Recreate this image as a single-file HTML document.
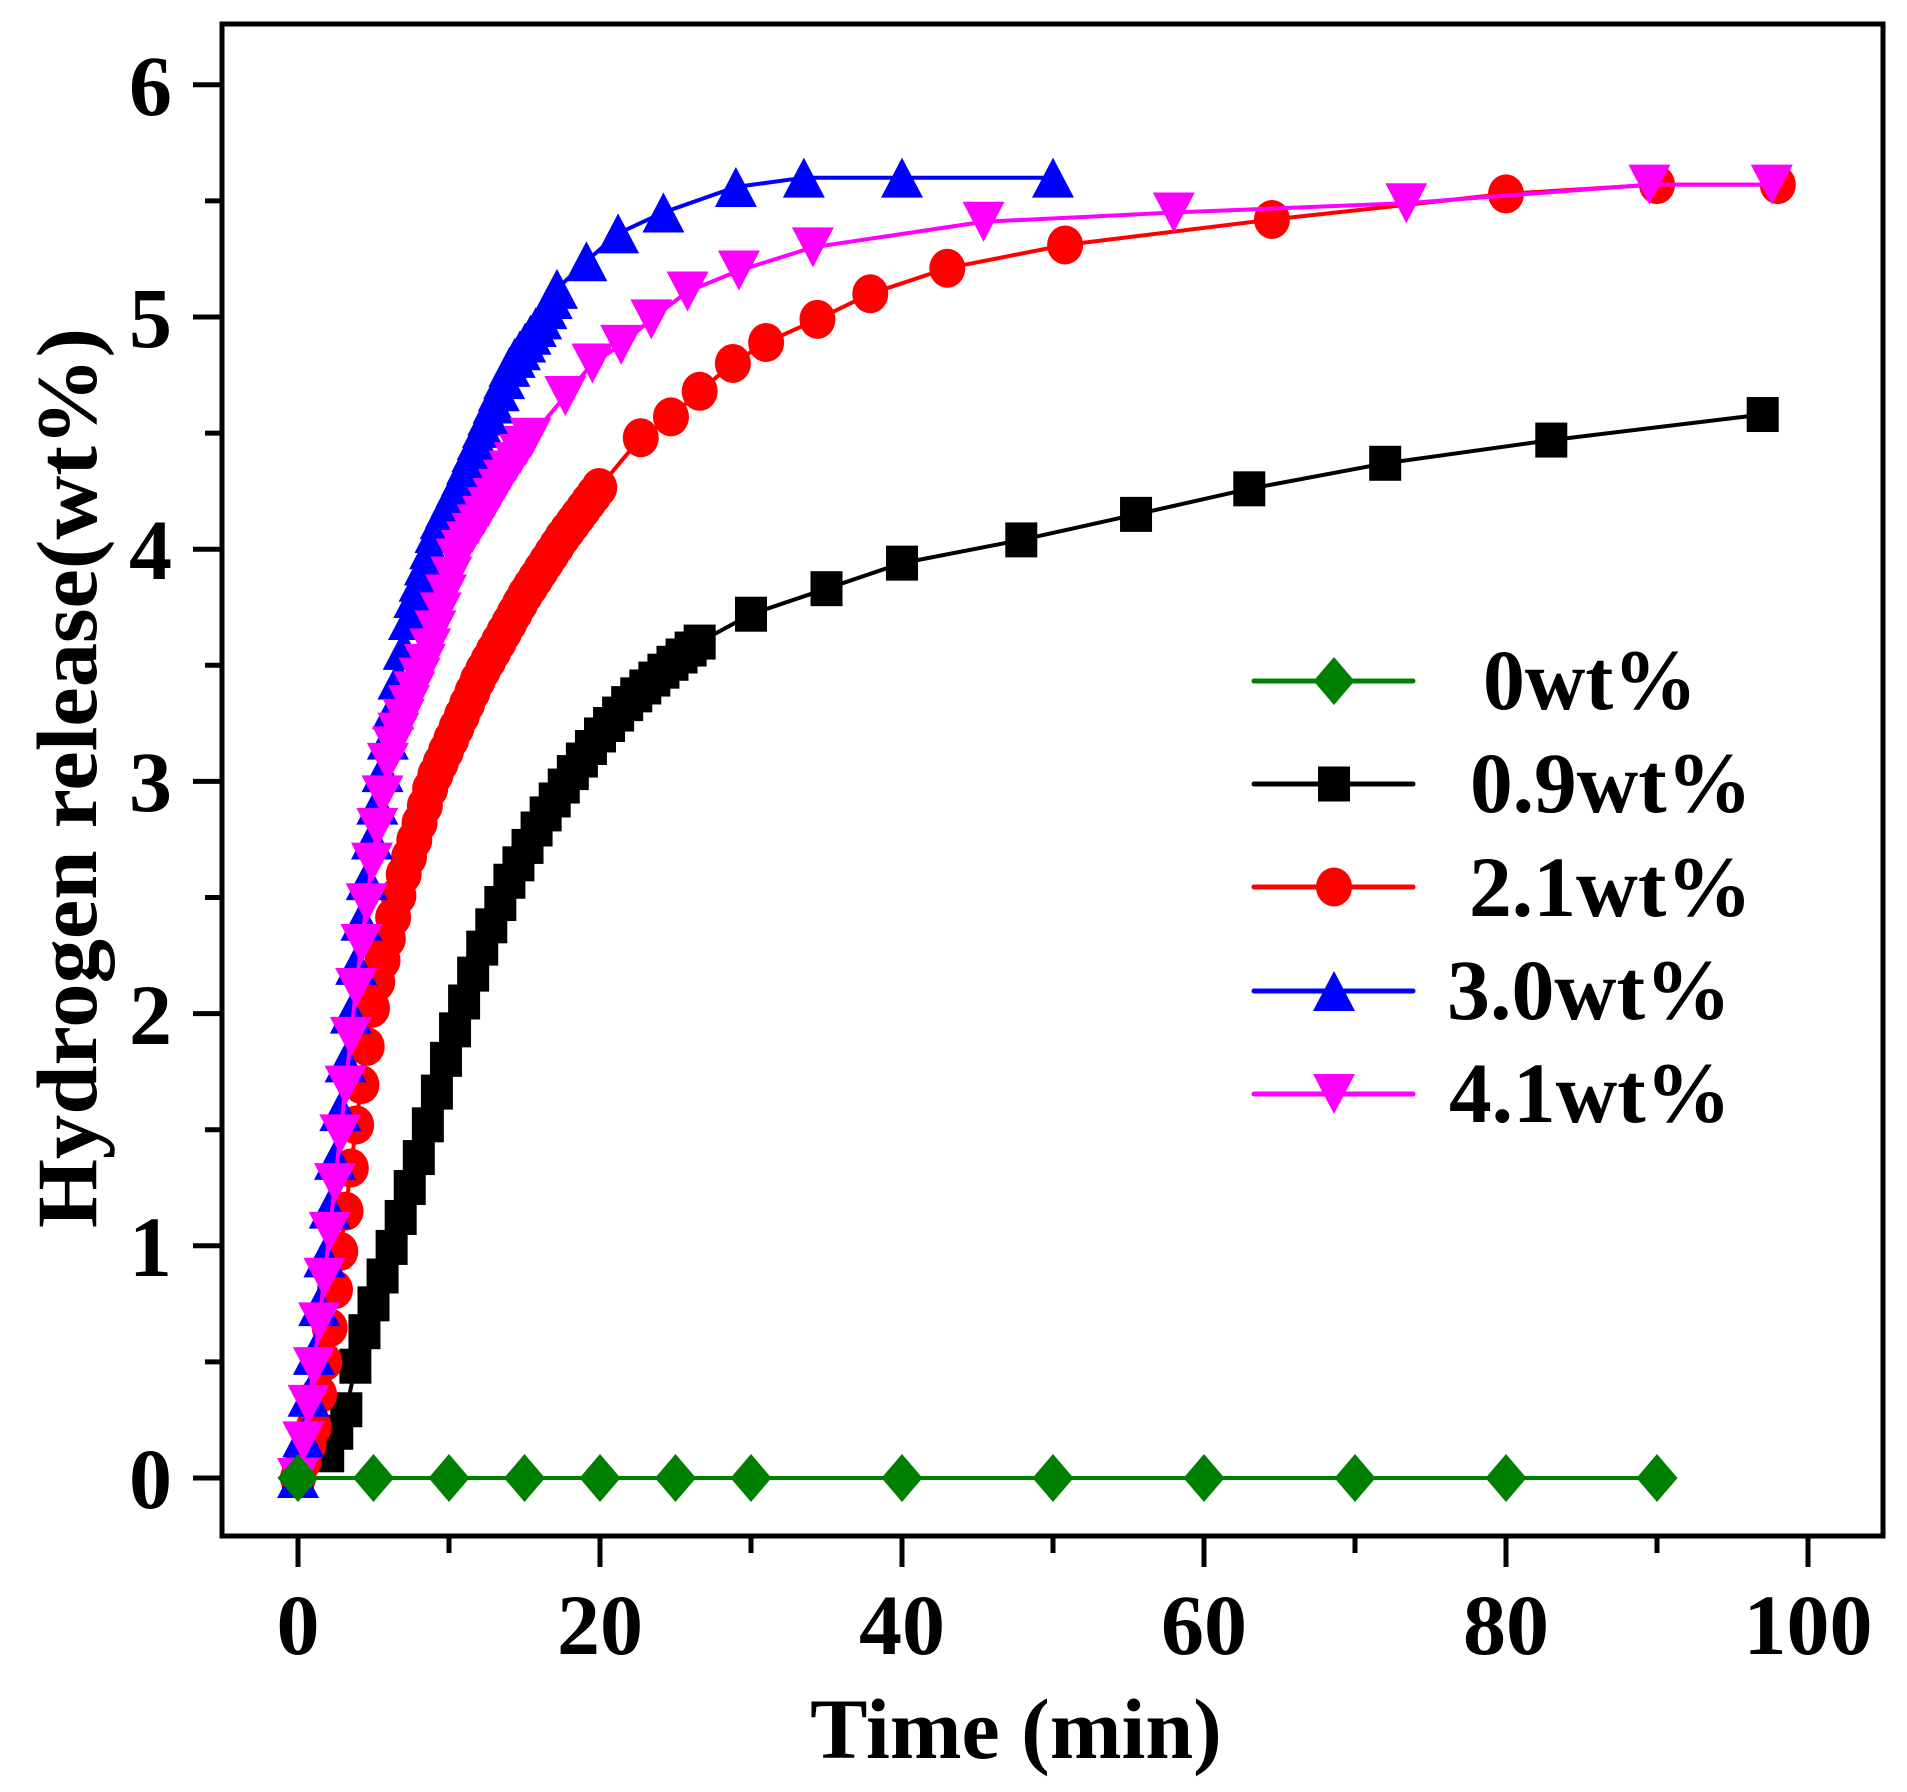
<!DOCTYPE html>
<html><head><meta charset="utf-8"><style>
html,body{margin:0;padding:0;background:#fff}
svg{display:block}
text{font-family:"Liberation Serif","Times New Roman",serif;font-weight:bold;fill:#000}
</style></head><body>
<svg id="s" width="1907" height="1792" viewBox="0 0 1907 1792" xmlns="http://www.w3.org/2000/svg">
<rect x="0" y="0" width="1907" height="1792" fill="#fff"/>
<g id="data"></g>
<rect x="222" y="24" width="1661" height="1512" fill="none" stroke="#000" stroke-width="5"/>
<g id="ticks" stroke="#000" stroke-width="5"></g>
<g font-size="86" text-anchor="middle">
<text x="298" y="1654">0</text><text x="600" y="1654">20</text><text x="902" y="1654">40</text>
<text x="1204" y="1654">60</text><text x="1506" y="1654">80</text><text x="1808" y="1654">100</text>
</g>
<g font-size="86" text-anchor="end">
<text x="172" y="1508">0</text><text x="172" y="1276">1</text><text x="172" y="1044">2</text>
<text x="172" y="811">3</text><text x="172" y="579">4</text><text x="172" y="347">5</text><text x="172" y="115">6</text>
</g>
<text x="1016" y="1758" font-size="86" text-anchor="middle">Time (min)</text>
<text transform="translate(96,778) rotate(-90)" font-size="86" text-anchor="middle" textLength="900" lengthAdjust="spacingAndGlyphs">Hydrogen release(wt%)</text>
<g id="legend"></g>
<g font-size="86">
<text x="1483" y="709" textLength="214" lengthAdjust="spacingAndGlyphs">0wt%</text>
<text x="1470" y="812" textLength="282" lengthAdjust="spacingAndGlyphs">0.9wt%</text>
<text x="1469" y="916" textLength="283" lengthAdjust="spacingAndGlyphs">2.1wt%</text>
<text x="1447" y="1019" textLength="284" lengthAdjust="spacingAndGlyphs">3.0wt%</text>
<text x="1449" y="1122" textLength="282" lengthAdjust="spacingAndGlyphs">4.1wt%</text>
</g>
</svg>
<script>
var NS="http://www.w3.org/2000/svg";
function X(t){return 298+15.1*t}
function Y(v){return 1478-232.2*v}
function el(p,n,a){var e=document.createElementNS(NS,n);for(var k in a)e.setAttribute(k,a[k]);p.appendChild(e);return e}
var tk=document.getElementById('ticks');
for(var i=0;i<=10;i++){var x=X(i*10);el(tk,'line',{x1:x,y1:1536,x2:x,y2:i%2?1553:1567});}
for(var i=0;i<=12;i++){var y=Y(i*0.5);el(tk,'line',{x1:222,y1:y,x2:i%2?205:193,y2:y});}
function interp(a,t){for(var i=1;i<a.length;i++){if(t<=a[i][0]){var p=a[i-1],q=a[i];return p[1]+(q[1]-p[1])*(t-p[0])/(q[0]-p[0]);}}return a[a.length-1][1]}
function series(anch,dense0,dense1,step,sparse){var pts=[];for(var t=dense0;t<=dense1+1e-6;t+=step)pts.push([t,interp(anch,t)]);sparse.forEach(function(s){pts.push([s,interp(anch,s)])});return pts}
var black=[[0,0],[2,0.1],[3.3,0.31],[4,0.55],[6,0.95],[8,1.38],[10,1.85],[12,2.25],[14,2.57],[16,2.82],[18,3.02],[20,3.2],[22,3.35],[25,3.52],[27,3.62],[30,3.72],[35,3.83],[40,3.94],[47.9,4.04],[55.5,4.15],[63,4.26],[72,4.37],[83,4.47],[97,4.58]];
var red=[[0,0],[1,0.2],[2,0.6],[3,1.07],[4,1.6],[5,2.07],[7,2.6],[8.9,3.0],[12,3.45],[15,3.8],[17.5,4.05],[20,4.27],[22.7,4.48],[24.7,4.57],[26.6,4.68],[28.8,4.8],[31,4.89],[34.4,4.99],[37.9,5.1],[43,5.21],[50.8,5.31],[64.5,5.42],[80,5.53],[90,5.57],[98,5.57]];
var blue=[[0,0],[1,0.5],[2,1.1],[3,1.7],[4,2.3],[5,2.8],[6,3.2],[7.5,3.75],[9.3,4.11],[10.9,4.32],[12.5,4.56],[14.1,4.8],[16.1,4.99],[17.3,5.14],[19.1,5.24],[21.2,5.36],[24.2,5.45],[29,5.56],[33.5,5.6],[40,5.6],[50,5.6]];
var mag=[[0,0],[1,0.45],[2,1.0],[3,1.6],[4,2.2],[5,2.7],[6,3.1],[8.6,3.54],[10.5,3.96],[12.5,4.17],[14.1,4.35],[15.7,4.51],[17.7,4.66],[19.5,4.8],[21.4,4.88],[23.4,4.99],[25.8,5.11],[29.2,5.2],[34.1,5.3],[45.4,5.41],[58,5.45],[73.4,5.49],[89.5,5.57],[97.6,5.57]];
var D=document.getElementById('data');
function draw(pts,col,mk){
 el(D,'polyline',{points:pts.map(function(p){return X(p[0]).toFixed(1)+','+Y(p[1]).toFixed(1)}).join(' '),fill:'none',stroke:col,'stroke-width':4});
 pts.forEach(function(p){marker(D,mk,X(p[0]),Y(p[1]),col)});
}
function marker(g,mk,x,y,c){
 if(mk=='sq')el(g,'rect',{x:x-16,y:y-17.5,width:32,height:35,fill:c});
 else if(mk=='ci')el(g,'ellipse',{cx:x,cy:y,rx:18,ry:19.5,fill:c});
 else if(mk=='up')el(g,'polygon',{points:(x-21)+','+(y+20)+' '+(x+21)+','+(y+20)+' '+x+','+(y-20),fill:c});
 else if(mk=='dn')el(g,'polygon',{points:(x-21)+','+(y-20)+' '+(x+21)+','+(y-20)+' '+x+','+(y+20),fill:c});
 else if(mk=='di')el(g,'polygon',{points:(x-20.5)+','+y+' '+x+','+(y-24)+' '+(x+20.5)+','+y+' '+x+','+(y+24),fill:c});
}
var bp=series(black,2,27,0.6,[30,35,40,47.9,55.5,63,72,83,97]);bp.unshift([0,0]);
draw(bp,'#000','sq');
draw(series(red,0,20,0.35,[22.7,24.7,26.6,28.8,31,34.4,37.9,43,50.8,64.5,80,90,98]),'#ff0000','ci');
draw(series(blue,0,17.3,0.35,[19.1,21.2,24.2,29,33.5,40,50]),'#0000ff','up');
draw(series(mag,0,15.7,0.35,[17.7,19.5,21.4,23.4,25.8,29.2,34.1,45.4,58,73.4,89.5,97.6]),'#ff00ff','dn');
draw([0,5,10,15,20,25,30,40,50,60,70,80,90].map(function(t){return [t,0]}),'#008000','di');
var L=document.getElementById('legend');
[['#008000','di',681],['#000','sq',784],['#ff0000','ci',887],['#0000ff','up',991],['#ff00ff','dn',1094]].forEach(function(r){
 el(L,'line',{x1:1254,y1:r[2],x2:1413,y2:r[2],stroke:r[0],'stroke-width':5,'stroke-linecap':'round'});
 marker(L,r[1],1334,r[2],r[0]);
});
</script>
</body></html>
